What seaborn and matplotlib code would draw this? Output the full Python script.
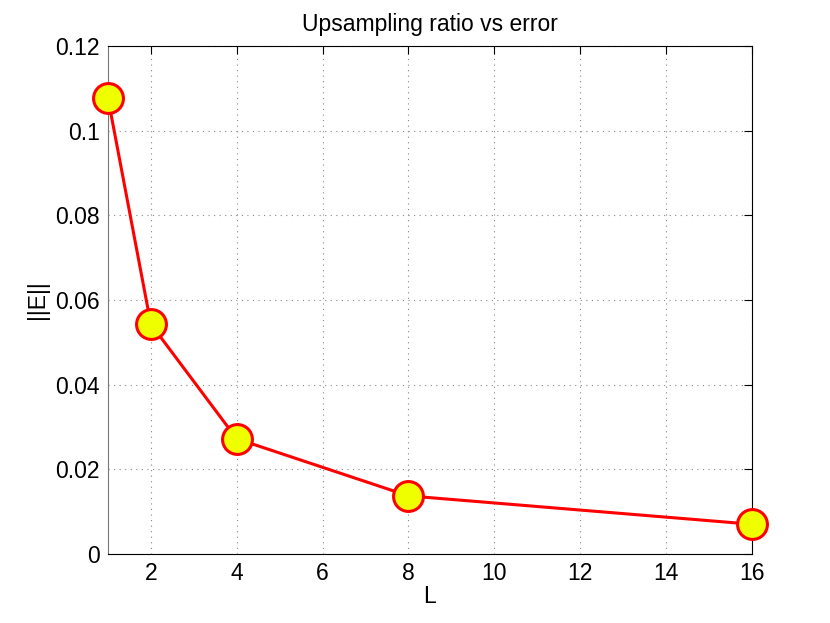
import matplotlib
matplotlib.use("Agg")
import matplotlib.pyplot as plt
import seaborn as sns
import pandas as pd

L_values = [1, 2, 4, 8, 16]
errors = [0.1078, 0.0543, 0.0272, 0.0137, 0.0070]
x_ticks = [2, 4, 6, 8, 10, 12, 14, 16]
y_ticks = [0, 0.02, 0.04, 0.06, 0.08, 0.1, 0.12]
y_tick_labels = ["0", "0.02", "0.04", "0.06", "0.08", "0.1", "0.12"]

sns.set_style("white")
plt.rcParams['font.family'] = ['Liberation Sans', 'DejaVu Sans']
plt.rcParams['text.color'] = 'black'
plt.rcParams['axes.labelcolor'] = 'black'

df = pd.DataFrame({"L": L_values, "E": errors})

fig = plt.figure(figsize=(8.3, 6.23), dpi=100)
ax = fig.add_axes([0.130, 0.111, 0.776, 0.815])

sns.lineplot(data=df, x="L", y="E", ax=ax, color="red", linewidth=2.2,
             marker="o", markersize=21.5, markerfacecolor="#f0ff00",
             markeredgecolor="red", markeredgewidth=2.2, clip_on=False, zorder=5)

ax.set_xlim(1, 16)
ax.set_ylim(0, 0.12)
ax.set_xticks(x_ticks)
ax.set_yticks(y_ticks)
ax.set_yticklabels(y_tick_labels)
ax.tick_params(axis="both", which="both", direction="in", length=6, width=0.8,
               top=True, right=True, labelsize=16.5, colors="black")
ax.tick_params(axis="x", pad=6)
ax.tick_params(axis="y", pad=6)
ax.grid(True, linestyle=(0, (1, 4)), color="#888888", linewidth=0.8)
for s in ax.spines.values():
    s.set_visible(True)
    s.set_color("black")
    s.set_linewidth(0.8)
ax.spines["left"].set_color("#777777")

ax.set_xlabel("L", fontsize=16.5, labelpad=0, color="black")
ax.set_ylabel("||E||", fontsize=16.5, labelpad=4, color="black")
ax.set_title("Upsampling ratio vs error", fontsize=16.5, pad=11, color="black")

fig.savefig("out.png", dpi=100, facecolor="white")
